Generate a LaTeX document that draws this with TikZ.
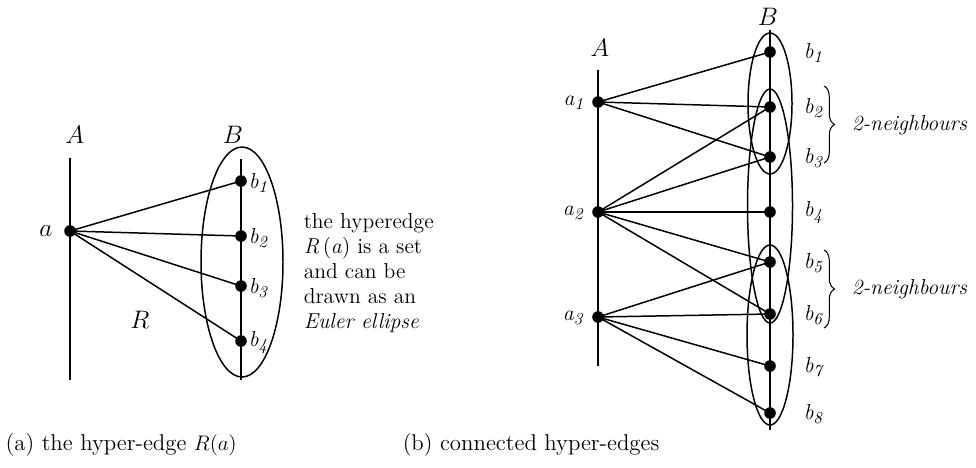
\documentclass[tikz,border=0pt]{standalone}
\usetikzlibrary{decorations.pathreplacing}
\newcommand\sbl[2]{\textit{#1}\raisebox{-0.45ex}{\fontsize{9.5}{10}\selectfont\textit{#2}}}
\begin{document}
\begin{tikzpicture}[x=0.02cm,y=-0.02cm,
  line width=0.85pt,
  dot/.style={circle,fill=black,inner sep=0pt,minimum size=6.6pt},
  lab/.style={font=\fontsize{12.3}{14.2}\selectfont,inner sep=0pt},
  mlab/.style={font=\fontsize{14}{15}\selectfont,inner sep=0pt},
  captxt/.style={font=\fontsize{13}{15}\selectfont,inner sep=0pt,anchor=base west},
  brc/.style={decorate,decoration={brace,amplitude=6pt},line width=0.6pt}]
\useasboundingbox (0,0) rectangle (976,467);
% ---------- (a) ----------
\coordinate (At) at (70,158); \coordinate (Ab) at (70,380);
\coordinate (Bt) at (241,159); \coordinate (Bb) at (241,380);
\draw (At) -- (Ab);
\draw (Bt) -- (Bb);
\draw (242,262) ellipse [x radius=41, y radius=115];
\node[dot] (a) at (70,231) {};
\node[dot] (b1) at (241,181) {};
\node[dot] (b2) at (241,236) {};
\node[dot] (b3) at (241,286) {};
\node[dot] (b4) at (241,341) {};
\foreach \i in {1,...,4} \draw (a.center) -- (b\i.center);
\node[mlab] (lA) at (75,135) {$A$};
\node[mlab] (lB) at (233,135) {$B$};
\node[mlab] (la) at (46,231) {$a$};
\node[mlab] (lR) at (140,320) {$R$};
\foreach \i/\y in {1/181,2/236,3/286,4/341}
  \node[lab,anchor=west] (lb\i) at (248,\y+2) {\sbl{b}{\i}};
\node[lab,anchor=base west] (t1) at (303,228) {the hyperedge};
\node[lab,anchor=base west] (t2) at (303,253) {\textit{R}\,(\textit{a}) is a set};
\node[lab,anchor=base west] (t3) at (303,278) {and can be};
\node[lab,anchor=base west] (t4) at (303,303) {drawn as an};
\node[lab,anchor=base west] (t5) at (303,328) {\textit{Euler ellipse}};
\node[captxt] (capa) at (5,450) {(a) the hyper-edge $R(a)$};
% ---------- (b) ----------
\coordinate (At2) at (598,70); \coordinate (Ab2) at (598,366);
\coordinate (Bt2) at (770,30); \coordinate (Bb2) at (770,430);
\draw (At2) -- (Ab2);
\draw (Bt2) -- (Bb2);
\draw (770,103.5) ellipse [x radius=22, y radius=70.5];
\draw (770,206) ellipse [x radius=22.5, y radius=117];
\draw (770,335) ellipse [x radius=23, y radius=90];
\node[dot] (a1) at (598,102) {};
\node[dot] (a2) at (598,212) {};
\node[dot] (a3) at (598,317) {};
\foreach \i/\y in {1/52,2/107,3/157,4/212,5/262,6/314,7/366,8/413}
  \node[dot] (c\i) at (770,\y) {};
\foreach \j in {1,2,3} \draw (a1.center) -- (c\j.center);
\foreach \j in {2,...,6} \draw (a2.center) -- (c\j.center);
\foreach \j in {5,...,8} \draw (a3.center) -- (c\j.center);
\node[mlab] (lA2) at (600,48) {$A$};
\node[mlab] (lB2) at (768,17) {$B$};
\foreach \i/\y in {1/102,2/212,3/317}
  \node[lab,anchor=east] (la\i) at (584,\y+1) {\sbl{a}{\i}};
\foreach \i/\y in {1/52,2/107,3/157,4/212,5/262,6/314,7/366,8/413}
  \node[lab,anchor=west] (lc\i) at (803,\y+1) {\sbl{b}{\i}};
\coordinate (br1t) at (824,86); \coordinate (br1b) at (824,163);
\coordinate (br2t) at (824,250); \coordinate (br2b) at (824,328);
\draw[brc] (br1t) -- (br1b);
\draw[brc] (br2t) -- (br2b);
\node[lab,anchor=west] (n1) at (851,125) {\textit{2-neighbours}};
\node[lab,anchor=west] (n2) at (851,289) {\textit{2-neighbours}};
\node[captxt] (capb) at (402,450) {(b) connected hyper-edges};
\end{tikzpicture}
\end{document}
